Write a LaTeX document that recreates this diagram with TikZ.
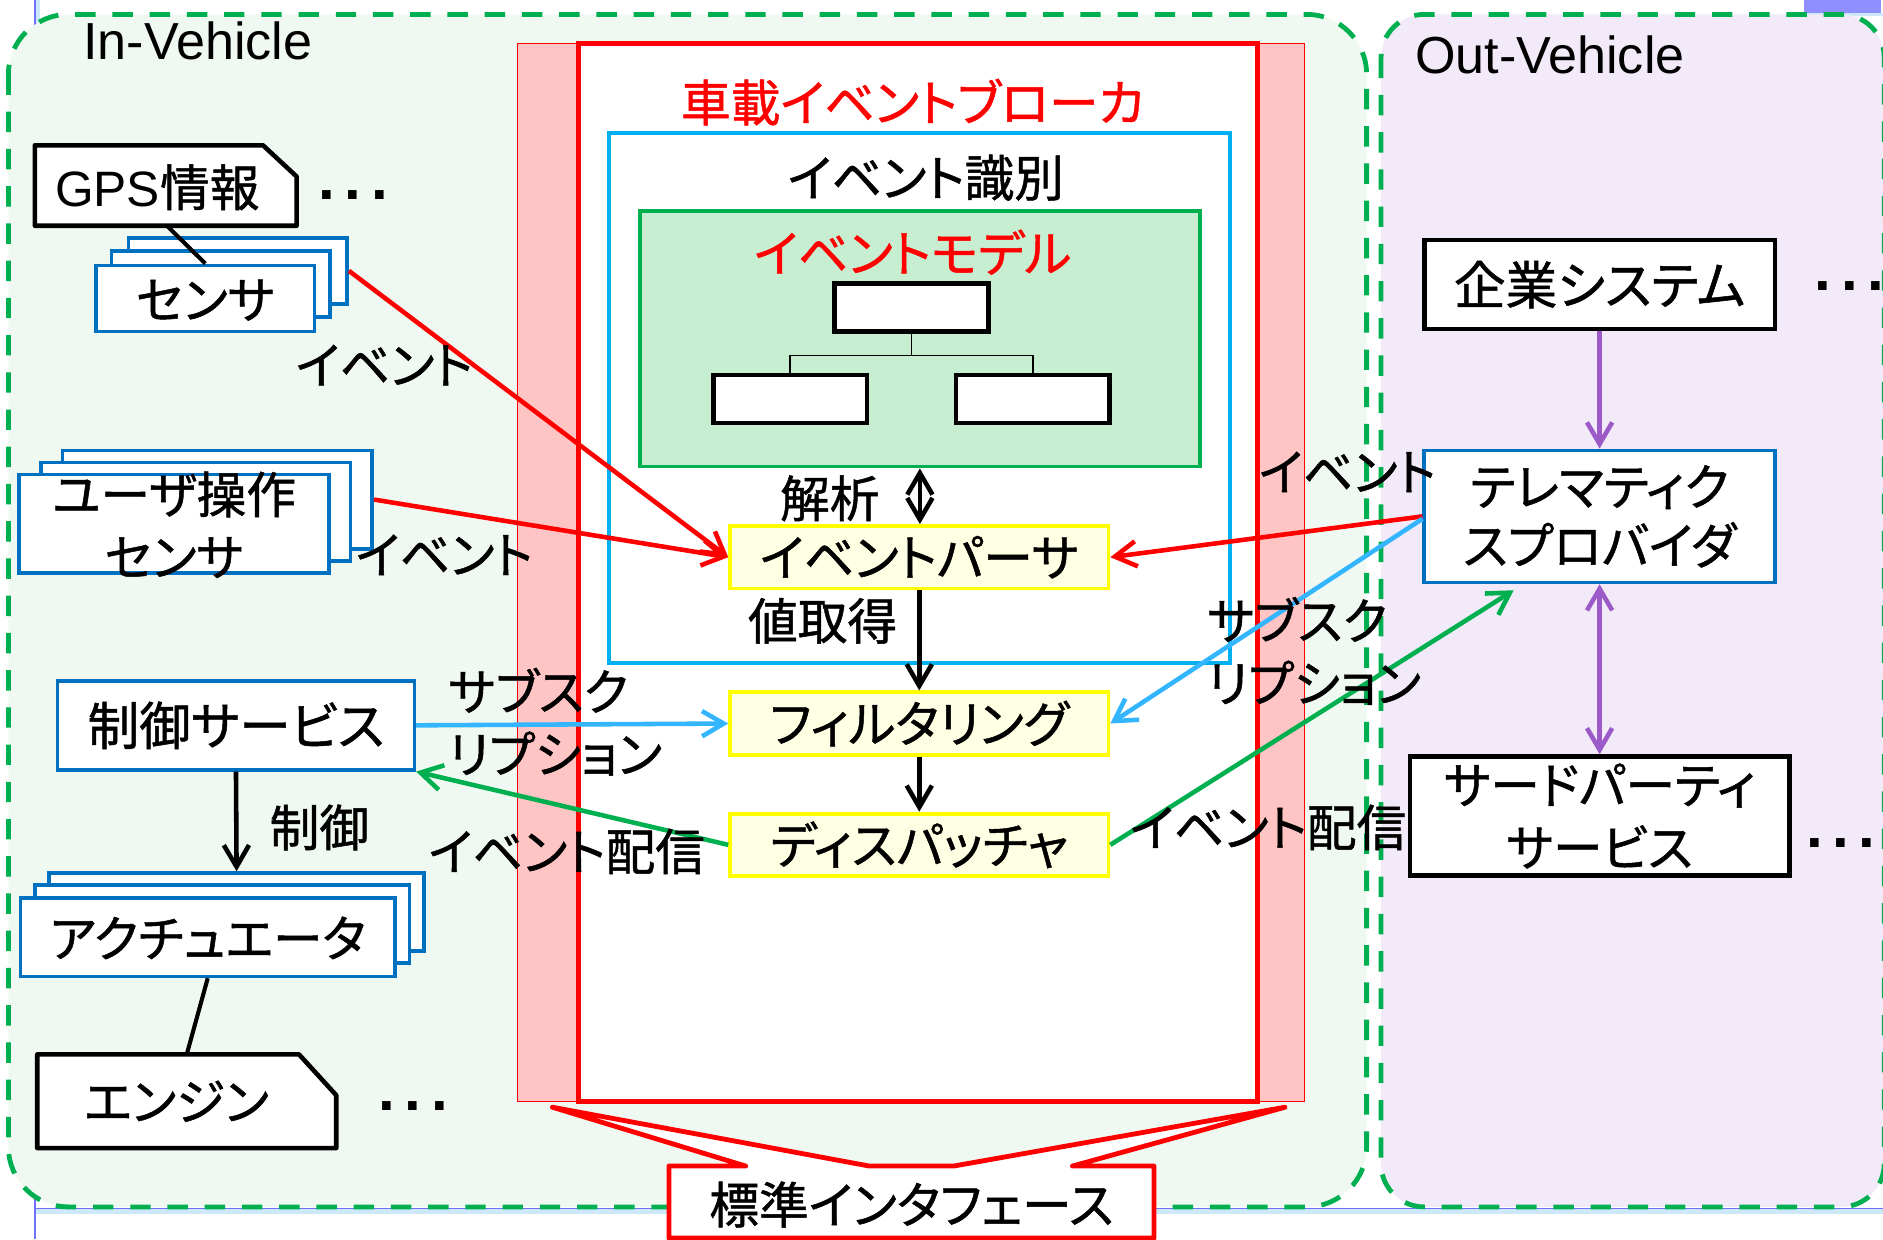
\documentclass[tikz,border=0pt]{standalone}
\usepackage{fontspec}
\setmainfont{Noto Sans CJK JP}[RawFeature=+palt, FakeBold=1]
\newfontfamily\lat{Liberation Sans}
\usetikzlibrary{arrows.meta,calc}
\definecolor{ingreen}{RGB}{240,249,241}
\definecolor{outviolet}{RGB}{242,234,248}
\definecolor{dgreen}{RGB}{0,176,80}
\definecolor{pinkbar}{RGB}{255,196,196}
\definecolor{skyb}{RGB}{0,176,240}
\definecolor{modelfill}{RGB}{200,238,210}
\definecolor{yfill}{RGB}{255,255,228}
\definecolor{ybord}{RGB}{255,255,0}
\definecolor{boxblue}{RGB}{0,112,192}
\definecolor{cyanarr}{RGB}{51,181,255}
\definecolor{purp}{RGB}{155,90,200}
\definecolor{slideb}{RGB}{112,112,255}
\definecolor{slidelb}{RGB}{205,232,250}
\definecolor{slidep}{RGB}{143,143,255}
\tikzset{
  jp/.style={font=\fontsize{20.7}{26}\selectfont},
  jpbig/.style={font=\fontsize{21.5}{26}\selectfont},
  lbl/.style={jp, inner sep=0pt},
  bbox/.style={draw=black, line width=1.9pt, fill=white, inner sep=0pt, jp},
  bluebox/.style={draw=boxblue, line width=1.5pt, fill=white, inner sep=0pt, jp},
  ybox/.style={draw=ybord, line width=1.6pt, fill=yfill, inner sep=0pt, jp,
               minimum width=157.5pt, minimum height=26pt},
  tbox/.style={draw=black, line width=1.8pt, fill=white, minimum width=64pt, minimum height=20pt, inner sep=0pt},
  arr/.style={line width=1.9pt, -{Straight Barb[length=9pt,width=10.5pt]}},
  darr/.style={line width=1.9pt, {Straight Barb[length=9pt,width=10.5pt]}-{Straight Barb[length=9pt,width=10.5pt]}},
  ell/.style={font=\lat\bfseries\fontsize{25}{25}\selectfont, inner sep=0pt},
  zone/.style={draw=dgreen, line width=2pt, dash pattern=on 8.5pt off 7pt},
  sensorbox/.style={bluebox, minimum width=91pt, minimum height=27.5pt},
  userbox/.style={bluebox, minimum width=129pt, minimum height=41pt},
  actbox/.style={bluebox, minimum width=156pt, minimum height=32.5pt},
}
\begin{document}
\begin{tikzpicture}[x=0.5pt,y=-0.5pt]
\useasboundingbox (0,0) rectangle (1568,1032);
% slide frame remnants
\fill[slidelb] (30,0) rectangle (33,22);
\draw[slideb, line width=0.6pt] (29,0) -- (29,22);
\fill[slidep] (1502,0) rectangle (1566,10.5);
\fill[slidelb] (1502,10.5) rectangle (1568,13);
\fill[slidelb] (29,1007) rectangle (1568,1011);
\draw[slideb, line width=0.6pt] (29,1006.5) -- (1568,1006.5);
\draw[slideb, line width=0.6pt] (29,993) -- (29,1032);
% regions
\path[fill=ingreen, zone, rounded corners=25pt] (7,12) rectangle (1138,1005);
\path[fill=outviolet, zone, rounded corners=18pt] (1150,12) rectangle (1569,1005);
\node[font=\lat\fontsize{21.7}{26}\selectfont, anchor=west, inner sep=0pt] (invt) at (69,34) {In-Vehicle};
\node[font=\lat\fontsize{21.7}{26}\selectfont, anchor=west, inner sep=0pt] (outvt) at (1178,46) {Out-Vehicle};
% broker
\filldraw[fill=pinkbar, draw=red, line width=0.5pt] (431,36) rectangle (1086,917);
\filldraw[fill=white, draw=red, line width=2pt] (482,36) rectangle (1047,917);
\node[lbl, text=red] (brt) at (760,85) {車載イベントブローカ};
\draw[skyb, line width=1.5pt] (507,111) rectangle (1024,552);
\node[lbl] (eidt) at (771,148) {イベント識別};
\node[draw=dgreen, line width=1.6pt, fill=modelfill, minimum width=233pt, minimum height=106.5pt, inner sep=0pt] (model) at (766,282) {};
\node[lbl, text=red] (modelt) at (760,210) {イベントモデル};
\node[tbox] (t0) at (759,256) {};
\node[tbox] (t1) at (658,332) {};
\node[tbox] (t2) at (860,332) {};
\draw[line width=0.6pt] (t0.south) -- ++(0,18) -| (t1.north);
\draw[line width=0.6pt] (t0.south) -- ++(0,18) -| (t2.north);
\node[ybox] (parser) at (765.5,464) {イベントパーサ};
\node[ybox] (filter) at (765.5,602.5) {フィルタリング};
\node[ybox] (disp) at (765.5,703.5) {ディスパッチャ};
\draw[darr] (model.south) -- (model.south |- parser.north);
\draw[arr] (parser.south) -- (filter.north);
\draw[arr] (filter.south) -- (disp.north);
% left side
\filldraw[fill=white, draw=black, line width=1.9pt, line join=round] (29,121) -- (219,121) -- (247,147) -- (247,188) -- (29,188) -- cycle;
\node[lbl] (gps) at (131,156) {{\lat GPS}情報};
\node[ell] (gpsdots) at (294,162) {.\hspace{4pt}.\hspace{4pt}.};
\coordinate (gpsS) at (139,188);
\node[sensorbox] (sback) at (198,225.5) {};
\node[sensorbox] (smid) at (184,236.5) {};
\node[sensorbox] (sfront) at (171,248.5) {};
\node[lbl] (sensort) at (171,250) {センサ};
\draw[line width=1.7pt] (gpsS) -- (sfront.north);
\node[userbox] (uback) at (181,416) {};
\node[userbox] (umid) at (163,426) {};
\node[userbox] (ufront) at (145,436) {};
\node[lbl, align=center] (usert) at (145,437) {ユーザ操作\\センサ};
\node[bluebox, jpbig, minimum width=148.5pt, minimum height=37pt] (ctrl) at (196.5,604) {制御サービス};
\node[actbox] (aback) at (197,759.5) {};
\node[actbox] (amid) at (185,769.5) {};
\node[actbox] (afront) at (173,780.5) {};
\node[lbl] (actt) at (173,781) {アクチュエータ};
\filldraw[fill=white, draw=black, line width=1.9pt, line join=round] (31,878) -- (249,878) -- (280,912) -- (280,956) -- (31,956) -- cycle;
\coordinate (engN) at (155.5,878);
\node[lbl] (eng) at (147,917) {エンジン};
\node[ell] (engdots) at (344,921) {.\hspace{4pt}.\hspace{4pt}.};
\draw[line width=1.7pt] (afront.south) -- (engN);
% left connectors
\draw[arr, red] (sback.east) -- (parser.west);
\draw[arr, red] (uback.east) -- (parser.west);
\draw[arr, cyanarr] (ctrl.east) -- (filter.west);
\draw[arr, dgreen] (disp.west) -- (ctrl.south east);
\draw[arr] (ctrl.south) -- (aback.north);
% right side
\node[bbox, jpbig, minimum width=146pt, minimum height=37pt] (corp) at (1332,237) {企業システム};
\node[ell] (corpdots) at (1540,238) {.\hspace{4pt}.\hspace{4pt}.};
\node[bluebox, align=center, font=\fontsize{20.7}{24.5}\selectfont, minimum width=146pt, minimum height=55pt] (tele) at (1332,430) {テレマティク\\スプロバイダ};
\node[bbox, align=center, minimum width=158pt, minimum height=49.5pt] (third) at (1332,679.5) {サードパーティ\\サービス};
\node[ell] (thirddots) at (1533,702) {.\hspace{4pt}.\hspace{4pt}.};
\draw[arr, purp] (corp.south) -- (tele.north);
\draw[darr, purp] (tele.south) -- (third.north);
\draw[arr, red] (tele.west) -- (parser.east);
\draw[arr, cyanarr] ([yshift=-1pt]tele.west) -- (filter.east);
\coordinate (gt) at ($(tele.south west)+(76,5)$);
\draw[arr, dgreen] (disp.east) -- (gt);
% callout
\filldraw[fill=white, draw=red, line width=2pt, line join=round] (557,971) -- (621,971) -- (460,922) -- (724,971) -- (794,971) -- (1070,922) -- (893,971) -- (961,971) -- (961,1031) -- (557,1031) -- cycle;
\node[lbl] (std) at (759,1003) {標準インタフェース};
% labels
\node[lbl] (l1) at (320,304) {イベント};
\node[lbl] (l2) at (370,462) {イベント};
\node[lbl, align=left, anchor=west] (l3) at (373,601) {サブスク\\リプション};
\node[lbl] (l4) at (472,709) {イベント配信};
\node[lbl] (l5) at (266,689) {制御};
\node[lbl] (l6) at (691,415) {解析};
\node[lbl] (l7) at (685,517) {値取得};
\node[lbl] (l8) at (1122,393) {イベント};
\node[lbl, align=left, anchor=west] (l9) at (1005,542) {サブスク\\リプション};
\node[lbl] (l10) at (1056,689) {イベント配信};
\end{tikzpicture}
\end{document}
